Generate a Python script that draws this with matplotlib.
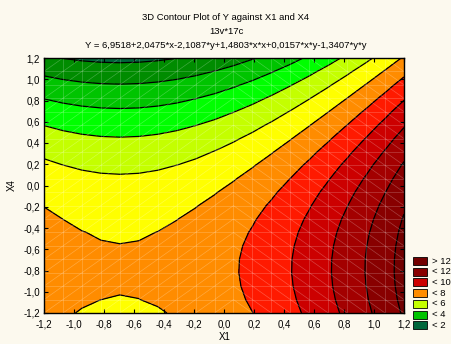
import numpy as np
import matplotlib
matplotlib.use("Agg")
import matplotlib.pyplot as plt
from matplotlib.collections import LineCollection
from matplotlib.patches import Rectangle
from matplotlib.ticker import MultipleLocator, FuncFormatter

plt.rcParams['font.family'] = ['Liberation Sans', 'DejaVu Sans']
plt.rcParams['axes.unicode_minus'] = False

# Fitted surface shown in the title: Y = b0 + b1*x + b2*y + b3*x*x + b4*x*y + b5*y*y
coef = [6.9518, 2.0475, -2.1087, 1.4803, 0.0157, -1.3407]
x_range = [-1.2, 1.2]
y_range = [-1.2, 1.2]
n_grid = 20
levels = [-100, 2, 3, 4, 5, 6, 7, 8, 9, 10, 11, 12, 100]
band_colors = ['#00663a', '#008c00', '#00c400', '#00ff00', '#c4ff00', '#ffff00',
               '#ff8c00', '#ff1a00', '#cc0000', '#a30000', '#880000', '#720000']
legend_labels = ['> 12', '< 12', '< 10', '< 8', '< 6', '< 4', '< 2']
legend_colors = ['#720000', '#880000', '#cc0000', '#ff8c00', '#c4ff00', '#00c400', '#00663a']
title_lines = ["3D Contour Plot of Y against X1 and X4", "13v*17c",
               "Y = 6,9518+2,0475*x-2,1087*y+1,4803*x*x+0,0157*x*y-1,3407*y*y"]

bg = '#fcf9ee'
fig = plt.figure(figsize=(4.52, 3.44), dpi=100, facecolor=bg)
W, H = 452, 344
ax = fig.add_axes([44 / W, 1 - 313 / H, 360 / W, 255 / H])

gx = np.linspace(x_range[0], x_range[1], n_grid)
gy = np.linspace(y_range[0], y_range[1], n_grid)
X, Y = np.meshgrid(gx, gy)
b0, b1, b2, b3, b4, b5 = coef
Z = b0 + b1 * X + b2 * Y + b3 * X * X + b4 * X * Y + b5 * Y * Y

ax.contourf(X, Y, Z, levels=levels, colors=band_colors)
ax.contour(X, Y, Z, levels=levels[1:-1], colors='black', linewidths=0.9)

# faint triangulation mesh
segs = []
for v in gx:
    segs.append([(v, gy[0]), (v, gy[-1])])
for v in gy:
    segs.append([(gx[0], v), (gx[-1], v)])
for i in range(n_grid - 1):
    for j in range(n_grid - 1):
        xc = 0.5 * (gx[i] + gx[i + 1])
        if xc < 0.05:
            segs.append([(gx[i], gy[j]), (gx[i + 1], gy[j + 1])])
        else:
            segs.append([(gx[i], gy[j + 1]), (gx[i + 1], gy[j])])
ax.add_collection(LineCollection(segs, colors='white', linewidths=0.5, alpha=0.25))

ax.set_xlim(x_range)
ax.set_ylim(y_range)
fmt = FuncFormatter(lambda v, p: ('%.1f' % v).replace('.', ',').replace('-0,0', '0,0'))
for a in (ax.xaxis, ax.yaxis):
    a.set_major_locator(MultipleLocator(0.2))
    a.set_major_formatter(fmt)
ax.tick_params(direction='in', length=3, width=0.8, top=True, right=True,
               labelsize=7, colors='black')
ax.tick_params(axis='x', pad=5)
ax.tick_params(axis='y', pad=3)
for s in ax.spines.values():
    s.set_linewidth(1.0)

fig.text(225 / W, 1 - 337 / H, 'X1', ha='center', va='center', fontsize=7)
fig.text(12 / W, 1 - 185 / H, 'X4', ha='center', va='center', fontsize=7, rotation=90)

for k, (t, yy) in enumerate(zip(title_lines, [18, 31, 45])):
    fig.text(226 / W, 1 - yy / H, t, ha='center', va='center', fontsize=6.8)

# legend
for k, (lab, col) in enumerate(zip(legend_labels, legend_colors)):
    top = 257 + k * 10.7
    fig.patches.append(Rectangle((413 / W, 1 - (top + 8) / H), 14 / W, 8 / H,
                                 transform=fig.transFigure, facecolor=col,
                                 edgecolor='black', linewidth=0.6))
    fig.text(432 / W, 1 - (top + 4) / H, lab, ha='left', va='center', fontsize=6.8)

fig.savefig('out.png', dpi=100, facecolor=bg)
